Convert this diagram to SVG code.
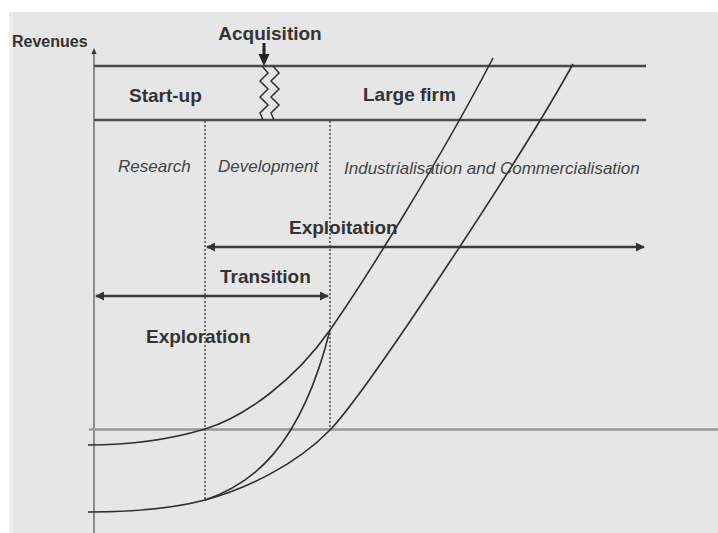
<svg xmlns="http://www.w3.org/2000/svg" width="718" height="533" viewBox="0 0 718 533">
<style>
.bold{font-family:"Liberation Sans",Arial,sans-serif;font-weight:bold;font-size:19px;fill:#333}
.small{font-family:"Liberation Sans",Arial,sans-serif;font-weight:bold;font-size:16px;fill:#333}
.ital{font-family:"Liberation Sans",Arial,sans-serif;font-style:italic;font-size:17px;fill:#444}
.band{stroke:#4a4a4a;stroke-width:2.5;fill:none}
.axis{stroke:#8a8a8a;stroke-width:2;fill:none}
.base{stroke:#9a9a9a;stroke-width:2.5;fill:none}
.dot{stroke:#444;stroke-width:1.5;stroke-dasharray:2,2;fill:none}
.curve{stroke:#2e2e2e;stroke-width:1.6;fill:none}
.arr{stroke:#3a3a3a;stroke-width:2.5;fill:none}
.zig{stroke:#333;stroke-width:1.5;fill:none}
</style>
<defs>
<marker id="ah" viewBox="0 0 10 10" refX="9" refY="5" markerWidth="3.6" markerHeight="3.6" orient="auto-start-reverse" markerUnits="strokeWidth">
<path d="M0,0 L10,5 L0,10 z" fill="#333"/>
</marker>
</defs>
<rect x="0" y="0" width="718" height="533" fill="#ffffff"/>
<rect x="9" y="12" width="709" height="521" fill="#e6e6e6"/>
<rect x="9" y="12" width="4" height="521" fill="#ececec"/>

<g id="axes">
<line class="axis" x1="94" y1="53" x2="94" y2="533"/>
<path d="M94,48 L91.5,54 L96.5,54 z" fill="#333"/>
<line class="base" x1="89" y1="429.5" x2="718" y2="429.5"/>
</g>

<g id="bands">
<line class="band" x1="94" y1="66" x2="646" y2="66"/>
<line class="band" x1="94" y1="120" x2="646" y2="120"/>
</g>

<g id="dividers">
<line class="dot" x1="205" y1="121" x2="205" y2="500"/>
<line class="dot" x1="330" y1="121" x2="330" y2="430"/>
</g>

<g id="connectors">
<line class="arr" x1="207" y1="247" x2="644" y2="247" marker-start="url(#ah)" marker-end="url(#ah)"/>
<line class="arr" x1="96" y1="296" x2="328" y2="296" marker-start="url(#ah)" marker-end="url(#ah)"/>
<line stroke="#222" stroke-width="3" x1="264" y1="43" x2="264" y2="56"/>
<path d="M258.5,54 L269.5,54 L264,66 z" fill="#222"/>
</g>

<g id="acquisition-break">
<polyline class="zig" points="262,66 268,73 260,81 268,89 260,97 268,105 260,113 263,120"/>
<polyline class="zig" points="273,66 279,73 271,81 279,89 271,97 279,105 271,113 274,120"/>
</g>

<g id="curves">
<path class="curve" d="M88,445 C140,445 175,438 205,429 C245,417 295,380 330,330 C365,280 440,160 493,58"/>
<path class="curve" d="M88,512 C140,512 175,508 205,500 C245,489 295,466 330,430 C365,394 520,160 573,64"/>
<path class="curve" d="M205,500 C250,485 300,450 330,330"/>
</g>

<g id="labels">
<text class="small" x="12" y="47">Revenues</text>
<text class="bold" x="270" y="40" text-anchor="middle">Acquisition</text>
<text class="bold" x="129" y="102">Start-up</text>
<text class="bold" x="363" y="101">Large firm</text>
<text class="ital" x="118" y="172">Research</text>
<text class="ital" x="218" y="172">Development</text>
<text class="ital" x="344" y="174">Industrialisation and Commercialisation</text>
<text class="bold" x="289" y="234">Exploitation</text>
<text class="bold" x="220" y="283">Transition</text>
<text class="bold" x="146" y="343">Exploration</text>
</g>
</svg>
